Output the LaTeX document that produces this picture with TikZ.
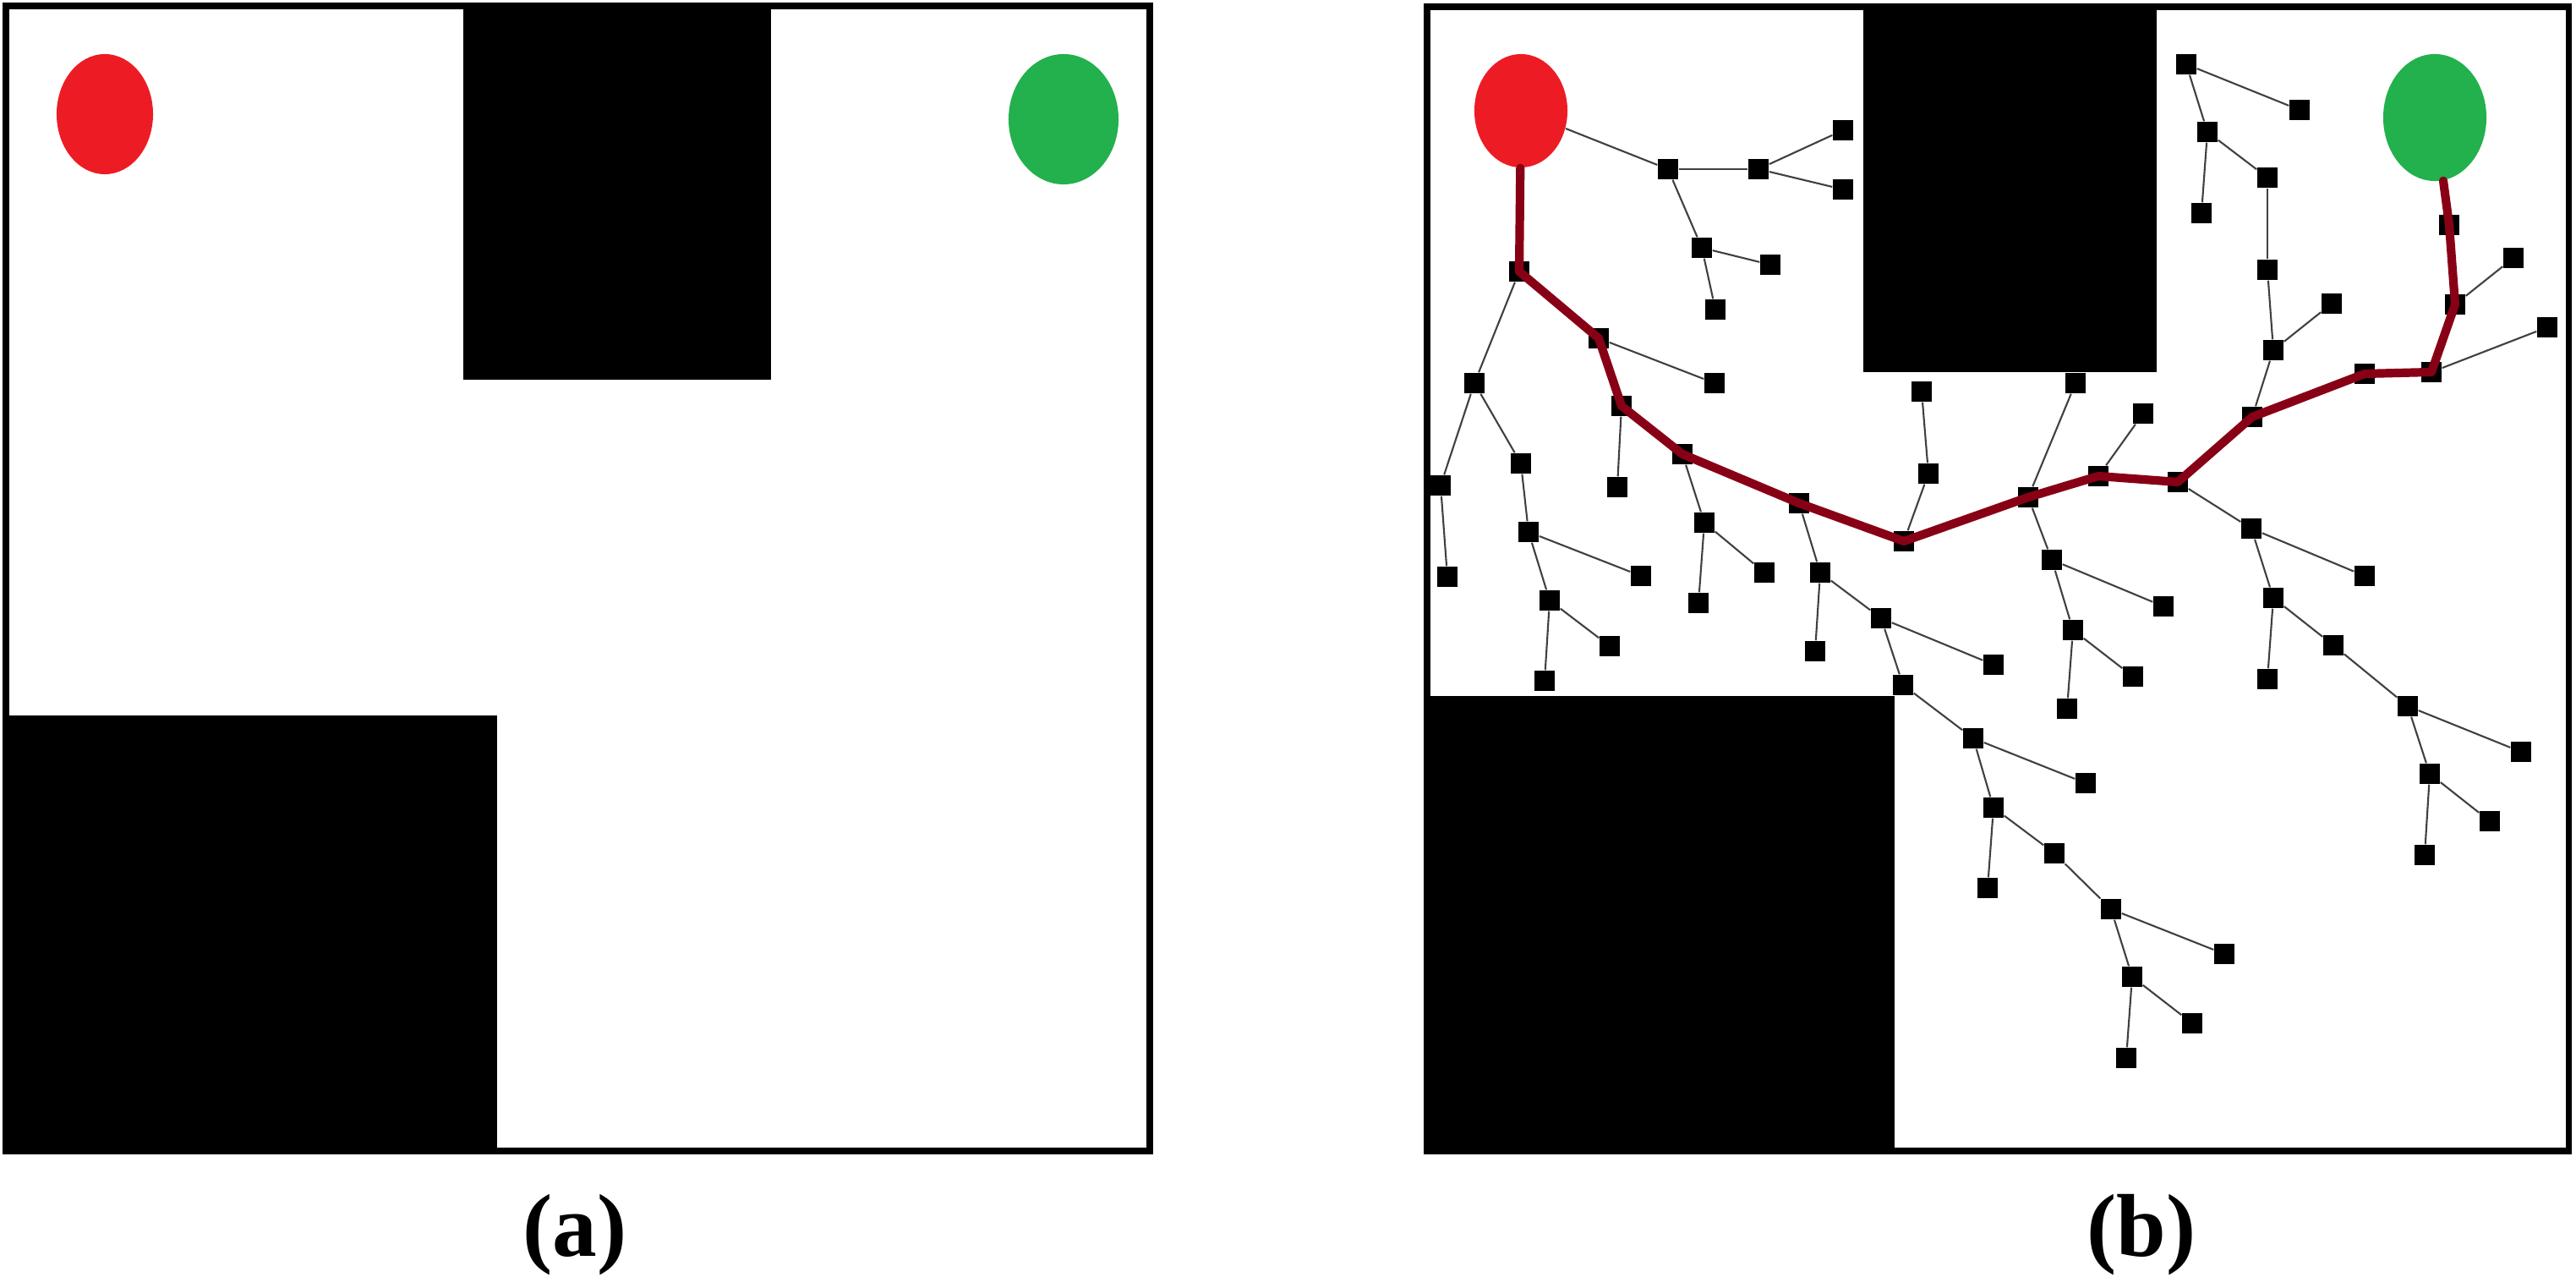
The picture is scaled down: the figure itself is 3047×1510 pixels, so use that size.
\documentclass[tikz,border=0pt]{standalone}
\usepackage{fontspec}
\setmainfont{Liberation Serif}
\usetikzlibrary{shapes.geometric}

\definecolor{startred}{RGB}{237,28,36}
\definecolor{goalgreen}{RGB}{34,177,76}
\definecolor{pathred}{RGB}{136,0,21}

\tikzset{
    vert/.style={rectangle, fill=black, inner sep=0pt, minimum size=0.24cm},
    startpt/.style={ellipse, fill=startred, inner sep=0pt},
    goalpt/.style={ellipse, fill=goalgreen, inner sep=0pt},
    branch/.style={black!75, line width=0.6pt},
    route/.style={pathred, line width=2.9pt, line join=round, line cap=round},
    frame/.style={black, line width=2pt},
    caption/.style={anchor=base, font=\fontsize{30}{36}\selectfont\bfseries},
}

\begin{document}
\begin{tikzpicture}[x=0.01cm, y=-0.01cm]
    \useasboundingbox (0,0) rectangle (3047,1510);

    % (a) empty map
    \fill[black] (548,7) rectangle (912,449);
    \fill[black] (7,846) rectangle (588,1361);
    \node[startpt, minimum width=1.14cm, minimum height=1.42cm] (srcA) at (124,135) {};
    \node[goalpt, minimum width=1.30cm, minimum height=1.54cm] (dstA) at (1258,141) {};
    \draw[frame] (7,7) rectangle (1360,1361);
    \node[caption] (capA) at (680,1486) {(a)};

    % (b) tree grown from the start
    \fill[black] (2204,8) rectangle (2551,440);
    \fill[black] (1688,823) rectangle (2241,1361);
    \node[startpt, minimum width=1.10cm, minimum height=1.34cm] (src) at (1799,131) {};
    \node[goalpt, minimum width=1.22cm, minimum height=1.50cm] (dst) at (2880,139) {};

    % nodes on the found path
    \foreach \n/\x/\y in {p1/1797/321, p2/1891/400, p3/1918/480, p4/1990/537,
        p5/2128/595, p6/2252/640, p7/2399/588, p8/2482/563, p9/2576/570,
        p10/2664/493, p11/2797/442, p12/2876/440, p13/2904/360, p14/2897/266}
        \node[vert] (\n) at (\x,\y) {};

    % other nodes of the tree
    \foreach \n/\x/\y in {a1/1973/200, a2/2080/200, a3/2180/154, a4/2180/224,
        a5/2013/293, a6/2094/313, a7/2029/366, a8/2028/453, a9/1913/576,
        a10/1744/453, a11/1704/574, a12/1799/548, a13/1712/682, a14/1808/629,
        a15/1941/681, a16/1833/710, a17/1904/764, a18/1827/805, a19/2016/618,
        a20/2087/677, a21/2009/713, a22/2153/677, a23/2147/770, a24/2225/731,
        a25/2358/786, a26/2251/810, a27/2334/873, a28/2467/926, a29/2358/955,
        a30/2351/1050, a31/2430/1009, a32/2497/1075, a33/2631/1128,
        a34/2522/1155, a35/2593/1210, a36/2515/1251, a37/2281/560, a38/2273/463,
        b1/2455/453, b2/2427/662, b3/2559/717, b4/2452/745, b5/2523/800,
        b6/2445/838, b7/2535/489, b8/2663/625, b9/2797/681, b10/2689/707,
        b11/2682/803, b12/2760/763, b13/2848/835, b14/2982/889, b15/2874/915,
        b16/2945/971, b17/2868/1011, b18/2689/414, b19/2758/359, b20/2682/319,
        b21/2682/210, b22/2611/156, b23/2604/252, b24/2586/76, b25/2720/130,
        b26/3013/387, b27/2973/305}
        \node[vert] (\n) at (\x,\y) {};

    \foreach \u/\v in {src/a1, a1/a2, a1/a5, a2/a3, a2/a4, a5/a6, a5/a7,
        p1/a10, a10/a11, a10/a12, a11/a13, a12/a14, a14/a15, a14/a16,
        a16/a17, a16/a18, p2/a8, p3/a9, p4/a19, a19/a20, a19/a21,
        p5/a22, a22/a23, a22/a24, a24/a25, a24/a26, a26/a27, a27/a28,
        a27/a29, a29/a30, a29/a31, a31/a32, a32/a33, a32/a34, a34/a35,
        a34/a36, p6/a37, a37/a38,
        p7/b1, p7/b2, b2/b3, b2/b4, b4/b5, b4/b6, p8/b7, p9/b8, b8/b9,
        b8/b10, b10/b11, b10/b12, b12/b13, b13/b14, b13/b15, b15/b16,
        b15/b17, p10/b18, b18/b19, b18/b20, b20/b21, b21/b22, b22/b23,
        b22/b24, b24/b25, p12/b26, p13/b27}
        \draw[branch] (\u) -- (\v);

    \draw[route] (src) -- (p1.center) -- (p2.center) -- (p3.center) -- (p4.center)
        -- (p5.center) -- (p6.center) -- (p7.center) -- (p8.center) -- (p9.center)
        -- (p10.center) -- (p11.center) -- (p12.center) -- (p13.center)
        -- (p14.center) -- (dst);

    \draw[frame] (1688,8) rectangle (3038,1361);
    \node[caption] (capB) at (2533,1486) {(b)};
\end{tikzpicture}
\end{document}
